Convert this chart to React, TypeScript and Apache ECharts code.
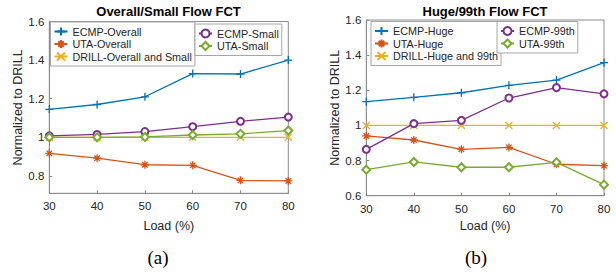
import React, { useEffect, useRef } from "react";
import * as echarts from "echarts";

const loads = [30, 40, 50, 60, 70, 80];
const yTicksA = [0.8, 1, 1.2, 1.4, 1.6];
const yTicksB = [0.6, 0.8, 1, 1.2, 1.4, 1.6];

// (a) Overall / Small
const ecmpOverall = [1.145, 1.17, 1.21, 1.33, 1.328, 1.4];
const utaOverall = [0.917, 0.892, 0.858, 0.855, 0.777, 0.774];
const drillOverallSmall = [1, 1, 1, 1, 1, 1];
const ecmpSmall = [1.008, 1.015, 1.03, 1.055, 1.083, 1.105];
const utaSmall = [1.0, 1.0, 1.002, 1.012, 1.018, 1.035];

// (b) Huge / 99th
const ecmpHuge = [1.135, 1.16, 1.186, 1.228, 1.258, 1.357];
const utaHuge = [0.94, 0.917, 0.864, 0.875, 0.779, 0.771];
const drillHuge99 = [1, 1, 1, 1, 1, 1];
const ecmp99 = [0.864, 1.01, 1.029, 1.156, 1.215, 1.18];
const uta99 = [0.748, 0.792, 0.762, 0.762, 0.79, 0.663];

const BLUE = "#0072BD";
const ORANGE = "#D95319";
const YELLOW = "#EDB120";
const PURPLE = "#7E2F8E";
const GREEN = "#77AC30";

const PLUS = "path://M0,5L10,5M5,0L5,10";
const STAR = "path://M0,5L10,5M5,0L5,10M1.6,1.6L8.4,8.4M1.6,8.4L8.4,1.6";
const CROSS = "path://M0,0L10,10M0,10L10,0";

const FONT = '"Liberation Sans", Arial, Helvetica, sans-serif';
const AXIS = "#8c8c8c";
const TXT = "#262626";

function mk(name: string, vals: number[], color: string, symbol: string, size: number, idx: number) {
  return {
    name,
    type: "line",
    xAxisIndex: idx,
    yAxisIndex: idx,
    data: loads.map((x, i) => [x, vals[i]]),
    symbol,
    symbolSize: size,
    showSymbol: true,
    lineStyle: { color, width: 1.3 },
    itemStyle: { color, borderColor: color, borderWidth: 1.3 },
    emphasis: { disabled: true },
  };
}

function xAxis(idx: number, gap: number) {
  return {
    type: "value",
    gridIndex: idx,
    min: 30,
    max: 80,
    interval: 10,
    name: "Load (%)",
    nameLocation: "middle",
    nameGap: gap,
    nameTextStyle: { fontSize: 12.5, color: TXT, fontFamily: FONT },
    axisLine: { show: true, lineStyle: { color: AXIS, width: 1 } },
    axisTick: { show: true, inside: true, length: 3, lineStyle: { color: AXIS } },
    axisLabel: { margin: 7, fontSize: 11.5, color: TXT, fontFamily: FONT },
    splitLine: { show: false },
  };
}

function yAxis(idx: number, min: number, ticks: number[], gap: number) {
  return {
    type: "value",
    gridIndex: idx,
    min,
    max: 1.6,
    name: "Normalized to DRILL",
    nameLocation: "middle",
    nameGap: gap,
    nameTextStyle: { fontSize: 12.5, color: TXT, fontFamily: FONT },
    axisLine: { show: true, lineStyle: { color: AXIS, width: 1 } },
    axisTick: { show: true, inside: true, length: 3, lineStyle: { color: AXIS }, customValues: ticks },
    axisLabel: { margin: 5, fontSize: 11.5, color: TXT, fontFamily: FONT, customValues: ticks },
    splitLine: { show: false },
  };
}

const legendCommon = {
  orient: "vertical",
  itemWidth: 13,
  itemHeight: 10,
  itemGap: 1.5,
  padding: [4, 3, 4, 3],
  backgroundColor: "#fff",
  borderColor: "#a6a6a6",
  borderWidth: 1,
  borderRadius: 0,
  selectedMode: false,
  textStyle: { fontSize: 10.8, color: TXT, fontFamily: FONT },
};

export default function App() {
  const ref = useRef<HTMLDivElement>(null);
  useEffect(() => {
    if (!ref.current) return;
    const chart = echarts.init(ref.current, null, { renderer: "svg" });
    const option: any = {
      animation: false,
      backgroundColor: "#fff",
      grid: [
        { left: 49.3, top: 21.5, width: 239, height: 171.8, show: true, borderColor: AXIS, borderWidth: 1, backgroundColor: "transparent" },
        { left: 366.3, top: 20, width: 237.7, height: 175.7, show: true, borderColor: AXIS, borderWidth: 1, backgroundColor: "transparent" },
      ],
      xAxis: [xAxis(0, 26), xAxis(1, 24)],
      yAxis: [yAxis(0, 0.71, yTicksA, 23), yAxis(1, 0.6, yTicksB, 24)],
      legend: [
        { ...legendCommon, left: 50.5, top: 22, data: ["ECMP-Overall", "UTA-Overall", "DRILL-Overall and Small"] },
        { ...legendCommon, left: 195, top: 24, data: ["ECMP-Small", "UTA-Small"] },
        { ...legendCommon, left: 371, top: 21.5, data: ["ECMP-Huge", "UTA-Huge", "DRILL-Huge and 99th"] },
        { ...legendCommon, left: 497, top: 21.5, data: ["ECMP-99th", "UTA-99th"] },
      ],
      series: [
        mk("ECMP-Overall", ecmpOverall, BLUE, PLUS, 8, 0),
        mk("UTA-Overall", utaOverall, ORANGE, STAR, 8, 0),
        mk("DRILL-Overall and Small", drillOverallSmall, YELLOW, CROSS, 7, 0),
        mk("ECMP-Small", ecmpSmall, PURPLE, "emptyCircle", 7, 0),
        mk("UTA-Small", utaSmall, GREEN, "emptyDiamond", 8, 0),
        mk("ECMP-Huge", ecmpHuge, BLUE, PLUS, 8, 1),
        mk("UTA-Huge", utaHuge, ORANGE, STAR, 8, 1),
        mk("DRILL-Huge and 99th", drillHuge99, YELLOW, CROSS, 7, 1),
        mk("ECMP-99th", ecmp99, PURPLE, "emptyCircle", 7, 1),
        mk("UTA-99th", uta99, GREEN, "emptyDiamond", 8, 1),
      ],
      graphic: [
        { type: "text", x: 168.5, y: 11, style: { text: "Overall/Small Flow FCT", font: `bold 13px ${FONT}`, fill: "#000", align: "center", verticalAlign: "middle", textAlign: "center", textVerticalAlign: "middle" } },
        { type: "text", x: 485, y: 11, style: { text: "Huge/99th Flow FCT", font: `bold 13px ${FONT}`, fill: "#000", align: "center", verticalAlign: "middle", textAlign: "center", textVerticalAlign: "middle" } },
        { type: "text", x: 158, y: 257.5, style: { text: "(a)", font: '19px "Liberation Serif", "Times New Roman", serif', fill: "#000", align: "center", verticalAlign: "middle", textAlign: "center", textVerticalAlign: "middle" } },
        { type: "text", x: 476, y: 257, style: { text: "(b)", font: '19px "Liberation Serif", "Times New Roman", serif', fill: "#000", align: "center", verticalAlign: "middle", textAlign: "center", textVerticalAlign: "middle" } },
      ],
    };
    chart.setOption(option);
    return () => chart.dispose();
  }, []);
  return <div ref={ref} style={{ position: "fixed", left: 0, top: 0, width: 616, height: 272 }} />;
}
